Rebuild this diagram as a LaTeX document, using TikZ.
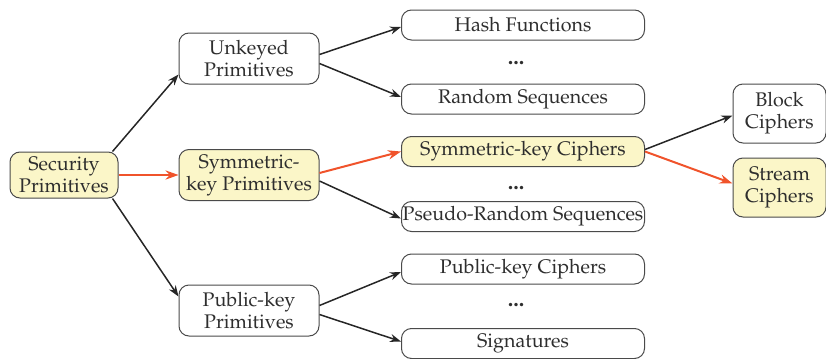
\documentclass[tikz,border=0pt]{standalone}
\usepackage[T1]{fontenc}
\usepackage{mathpazo}
\usetikzlibrary{arrows.meta}
\definecolor{boxline}{HTML}{4A4A4A}
\definecolor{hilite}{HTML}{FBF6C8}
\definecolor{redarrow}{HTML}{F0532B}
\definecolor{textgray}{HTML}{2E2E2E}
\begin{document}
\begin{tikzpicture}[x=0.5pt, y=-0.5pt,
    prim/.style={draw=boxline, line width=0.5pt, rounded corners=5pt, align=center, text=textgray, inner xsep=0.3pt, inner ysep=1pt, font=\fontsize{9.85}{11}\selectfont},
    bigbox/.style={prim, minimum width=70pt, minimum height=25.5pt},
    listbox/.style={prim, minimum width=121.5pt, minimum height=15pt},
    leafbox/.style={prim, minimum width=46.5pt, minimum height=29.5pt},
    marked/.style={fill=hilite},
    link/.style={line width=0.75pt, draw=black!85, -{Stealth[length=5.5pt, width=4pt]}},
    path/.style={line width=1pt, draw=redarrow, -{Stealth[length=6.5pt, width=4.6pt]}},
    more/.style={text=textgray, anchor=base, font=\fontsize{11}{11}\bfseries},
]
\useasboundingbox (0,0) rectangle (826,359);

% first level
\node[prim, marked, minimum width=54pt, minimum height=23pt] (sec) at (64,175) {Security\\Primitives};

% second level
\node[bigbox] (unk) at (249,58.5) {Unkeyed\\Primitives};
\node[bigbox, marked] (sym) at (249,175) {Symmetric-\\key Primitives};
\node[bigbox] (pub) at (249,310.5) {Public-key\\Primitives};

% third level
\node[listbox] (hash) at (523,25) {Hash Functions};
\node[more] (dotsa) at (516,64) {...};
\node[listbox] (rand) at (523,99) {Random Sequences};

\node[listbox, marked] (sc) at (523,151.5) {Symmetric-key Ciphers};
\node[more] (dotsb) at (516,189) {...};
\node[listbox] (prs) at (523,216.5) {Pseudo-Random Sequences};

\node[listbox] (pkc) at (523,269) {Public-key Ciphers};
\node[more] (dotsc) at (516,306) {...};
\node[listbox] (sig) at (523,343.5) {Signatures};

% fourth level
\node[leafbox] (blk) at (779.5,113.5) {Block\\Ciphers};
\node[leafbox, marked] (str) at (779.5,187.5) {Stream\\Ciphers};

% connectors
\draw[link] ([xshift=-3pt]sec.north east) -- ([yshift=-8pt]unk.west);
\draw[path] (sec.east) -- (sym.west);
\draw[link] ([xshift=-3pt]sec.south east) -- ([yshift=7pt]pub.west);

\draw[link] ([yshift=2pt]unk.east) -- ([yshift=-1pt]hash.west);
\draw[link] ([yshift=-2.5pt]unk.east) -- ([yshift=1pt]rand.west);
\draw[path] ([yshift=1pt]sym.east) -- (sc.west);
\draw[link] ([yshift=-3pt]sym.east) -- ([yshift=-1pt]prs.west);
\draw[link] ([yshift=2.5pt]pub.east) -- ([yshift=-1.5pt]pkc.west);
\draw[link] ([yshift=-2pt]pub.east) -- ([yshift=1pt]sig.west);

\draw[link] ([yshift=1pt]sc.east) -- ([yshift=-1pt]blk.west);
\draw[path] (sc.east) -- ([yshift=2pt]str.west);
\end{tikzpicture}
\end{document}
